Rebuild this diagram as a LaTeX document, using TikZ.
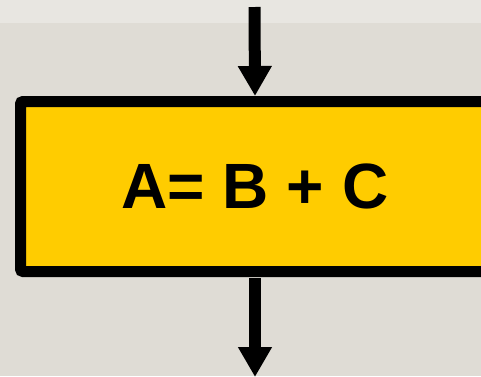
\documentclass[tikz,border=0pt]{standalone}
\usepackage{fontspec}
\setmainfont{Liberation Sans}
\usetikzlibrary{arrows.meta}
\definecolor{bgtop}{HTML}{E8E6E1}
\definecolor{bgmain}{HTML}{DFDCD5}
\definecolor{boxyellow}{HTML}{FFCC00}
\tikzset{
  stepbox/.style={draw=black, fill=boxyellow, line width=11pt, rounded corners=2.5pt,
    minimum width=469pt, minimum height=170pt, inner sep=0pt,
    font=\fontsize{64}{64}\selectfont\bfseries},
  flowarrow/.style={draw=black, line width=12pt,
    -{Triangle[width=32pt,length=30pt]}}
}
\begin{document}
\begin{tikzpicture}[x=1pt,y=-1pt]
\useasboundingbox (0,0) rectangle (481,376);
\clip (0,0) rectangle (481,376);
\fill[bgtop] (0,0) rectangle (481,23);
\fill[bgmain] (0,23) rectangle (481,376);
\node[stepbox] (box) at (255,186.5) {A= B + C};
\coordinate (t) at (254.5,7);
\coordinate (b) at (255,377);
\draw[flowarrow] (t) -- (box.north);
\draw[flowarrow, shorten <=1pt] (box.south) -- (b);
\end{tikzpicture}
\end{document}
